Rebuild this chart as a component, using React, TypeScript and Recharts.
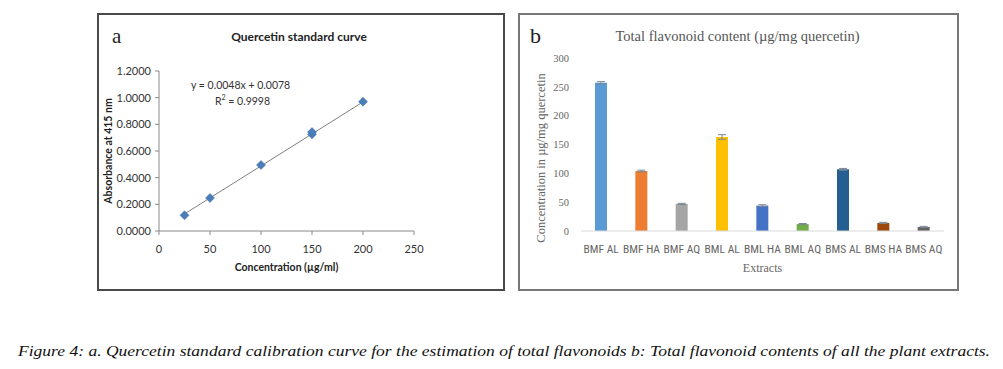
import React from "react";
import {
  ComposedChart,
  Scatter,
  XAxis,
  YAxis,
  BarChart,
  Bar,
  Cell,
  ErrorBar,
} from "recharts";

// panel a: quercetin calibration
const concentrations = [25, 50, 100, 150, 150, 200];
const absorbances = [0.118, 0.248, 0.495, 0.725, 0.742, 0.97];
const trendX = [25, 200];
const trendY = [0.128, 0.968];
const absTicks = [0, 0.2, 0.4, 0.6, 0.8, 1.0, 1.2];
const concTicks = [0, 50, 100, 150, 200, 250];

// panel b: flavonoid content per extract
const extracts = [
  "BMF AL",
  "BMF HA",
  "BMF AQ",
  "BML AL",
  "BML HA",
  "BML AQ",
  "BMS AL",
  "BMS HA",
  "BMS AQ",
];
const flavonoid = [257, 104, 47, 163, 44, 12, 107, 14, 7];
const flavonoidErr = [2, 1.5, 1, 4, 1.5, 1, 1.5, 1, 1];
const barColors = [
  "#5B9BD5",
  "#ED7D31",
  "#A5A5A5",
  "#FFC000",
  "#4472C4",
  "#70AD47",
  "#255E91",
  "#9E480E",
  "#636363",
];
const contentTicks = [0, 50, 100, 150, 200, 250, 300];

const pointsA = concentrations.map((x, i) => ({ x, y: absorbances[i] }));
const trendA = trendX.map((x, i) => ({ x, y: trendY[i] }));
const rowsB = extracts.map((name, i) => ({
  name,
  value: flavonoid[i],
  err: flavonoidErr[i],
}));

const sans = "Lato, 'Open Sans', sans-serif";
const serif = "'Liberation Serif', 'DejaVu Serif', serif";

const Diamond = (props: any) => {
  const { cx, cy } = props;
  if (cx == null || cy == null) return null;
  const r = 4.5;
  return (
    <path
      d={`M${cx},${cy - r} L${cx + r},${cy} L${cx},${cy + r} L${cx - r},${cy} Z`}
      fill="#4A7EBB"
      stroke="#3F6FA8"
      strokeWidth={0.5}
    />
  );
};

function PanelA() {
  return (
    <div
      style={{
        position: "absolute",
        left: 97,
        top: 13,
        width: 408,
        height: 278,
        border: "2px solid #4a4a4a",
        boxSizing: "border-box",
        background: "#fff",
      }}
    >
      <div
        style={{
          position: "absolute",
          left: 13,
          top: 9,
          fontFamily: serif,
          fontSize: 21,
          color: "#222",
        }}
      >
        a
      </div>
      <div
        style={{
          position: "absolute",
          left: 0,
          width: 406,
          top: 14,
          textAlign: "center",
          fontFamily: sans,
          fontWeight: 700,
          fontSize: 12,
          color: "#222",
          transform: "translateX(-3px)",
        }}
      >
        Quercetin standard curve
      </div>
      <div
        style={{
          position: "absolute",
          left: 92,
          top: 64,
          fontFamily: sans,
          fontSize: 10.5,
          color: "#333",
        }}
      >
        y = 0.0048x + 0.0078
      </div>
      <div
        style={{
          position: "absolute",
          left: 116,
          top: 78,
          fontFamily: sans,
          fontSize: 10.5,
          color: "#333",
        }}
      >
        R<sup style={{ fontSize: 7 }}>2</sup> = 0.9998
      </div>
      <ComposedChart
        width={404}
        height={274}
        margin={{ top: 56, right: 89, left: 0, bottom: 0 }}
        style={{ position: "absolute", left: 0, top: 0 }}
      >
        <XAxis
          type="number"
          dataKey="x"
          domain={[0, 250]}
          ticks={concTicks}
          height={58}
          stroke="#8a8a8a"
          tickSize={4}
          tick={{ fontSize: 11, fill: "#333", fontFamily: sans, dy: 8 }}
          label={{
            value: "Concentration (µg/ml)",
            position: "insideBottom",
            offset: 18,
            style: { fontSize: 10.5, fontWeight: 700, fill: "#222", fontFamily: sans },
          }}
        />
        <YAxis
          type="number"
          dataKey="y"
          domain={[0, 1.2]}
          ticks={absTicks}
          width={60}
          stroke="#8a8a8a"
          tickSize={4}
          tickFormatter={(v: number) => v.toFixed(4)}
          tick={{ fontSize: 11, fill: "#333", fontFamily: sans, dx: -2 }}
          label={{
            value: "Absorbance at 415 nm",
            angle: -90,
            position: "insideLeft",
            offset: 9,
            style: {
              textAnchor: "middle",
              fontSize: 10.5,
              fontWeight: 700,
              fill: "#222",
              fontFamily: sans,
            },
          }}
        />
        <Scatter
          data={trendA}
          line={{ stroke: "#7f7f7f", strokeWidth: 1 }}
          shape={() => null}
          isAnimationActive={false}
        />
        <Scatter data={pointsA} shape={Diamond} isAnimationActive={false} />
      </ComposedChart>
    </div>
  );
}

function PanelB() {
  return (
    <div
      style={{
        position: "absolute",
        left: 518,
        top: 13,
        width: 441,
        height: 278,
        border: "2px solid #777",
        boxSizing: "border-box",
        background: "#fff",
      }}
    >
      <div
        style={{
          position: "absolute",
          left: 10,
          top: 8,
          fontFamily: serif,
          fontSize: 22,
          color: "#222",
        }}
      >
        b
      </div>
      <div
        style={{
          position: "absolute",
          left: 0,
          width: 437,
          top: 13,
          textAlign: "center",
          fontFamily: serif,
          fontSize: 14.5,
          color: "#555",
          transform: "translateX(-1px)",
        }}
      >
        Total flavonoid content (µg/mg quercetin)
      </div>
      <div
        style={{
          position: "absolute",
          left: 21,
          top: 143,
          width: 0,
          height: 0,
        }}
      >
        <div
          style={{
            position: "absolute",
            left: 0,
            top: 0,
            transform: "translate(-50%, -50%) rotate(-90deg)",
            whiteSpace: "nowrap",
            fontFamily: serif,
            fontSize: 12.5,
            color: "#666",
          }}
        >
          Concentration in µg/mg quercetin
        </div>
      </div>
      <BarChart
        width={437}
        height={274}
        data={rowsB}
        margin={{ top: 43, right: 13, left: 0, bottom: 0 }}
        style={{ position: "absolute", left: 0, top: 0 }}
        barCategoryGap="35%"
      >
        <XAxis
          dataKey="name"
          height={58}
          stroke="#d9d9d9"
          tickLine={false}
          interval={0}
          tick={{
            fontSize: 11.5,
            fill: "#666",
            fontFamily: "'Liberation Sans Narrow', 'Roboto Condensed', Roboto, sans-serif",
            dy: 6,
          }}
          label={{
            value: "Extracts",
            position: "insideBottom",
            offset: 17,
            style: { fontSize: 12, fill: "#666", fontFamily: serif },
          }}
        />
        <YAxis
          domain={[0, 300]}
          ticks={contentTicks}
          width={61}
          axisLine={false}
          tickLine={false}
          tick={{ fontSize: 10.5, fill: "#666", fontFamily: serif, dx: -4 }}
        />
        <Bar dataKey="value" barSize={12} isAnimationActive={false}>
          {rowsB.map((r, i) => (
            <Cell key={r.name} fill={barColors[i]} />
          ))}
          <ErrorBar dataKey="err" width={4} stroke="#7a8794" strokeWidth={1} />
        </Bar>
      </BarChart>
    </div>
  );
}

export default function App() {
  return (
    <div
      style={{
        position: "absolute",
        left: 0,
        top: 0,
        width: 1003,
        height: 369,
        background: "#fff",
        overflow: "hidden",
      }}
    >
      <PanelA />
      <PanelB />
      <svg
        width={1003}
        height={30}
        style={{ position: "absolute", left: 0, top: 338 }}
      >
        <text
          x={18}
          y={18}
          textLength={972}
          lengthAdjust="spacingAndGlyphs"
          fontFamily={serif}
          fontStyle="italic"
          fontSize={15}
          fill="#111"
        >
          Figure 4: a. Quercetin standard calibration curve for the estimation of total flavonoids b:
          Total flavonoid contents of all the plant extracts.
        </text>
      </svg>
    </div>
  );
}
